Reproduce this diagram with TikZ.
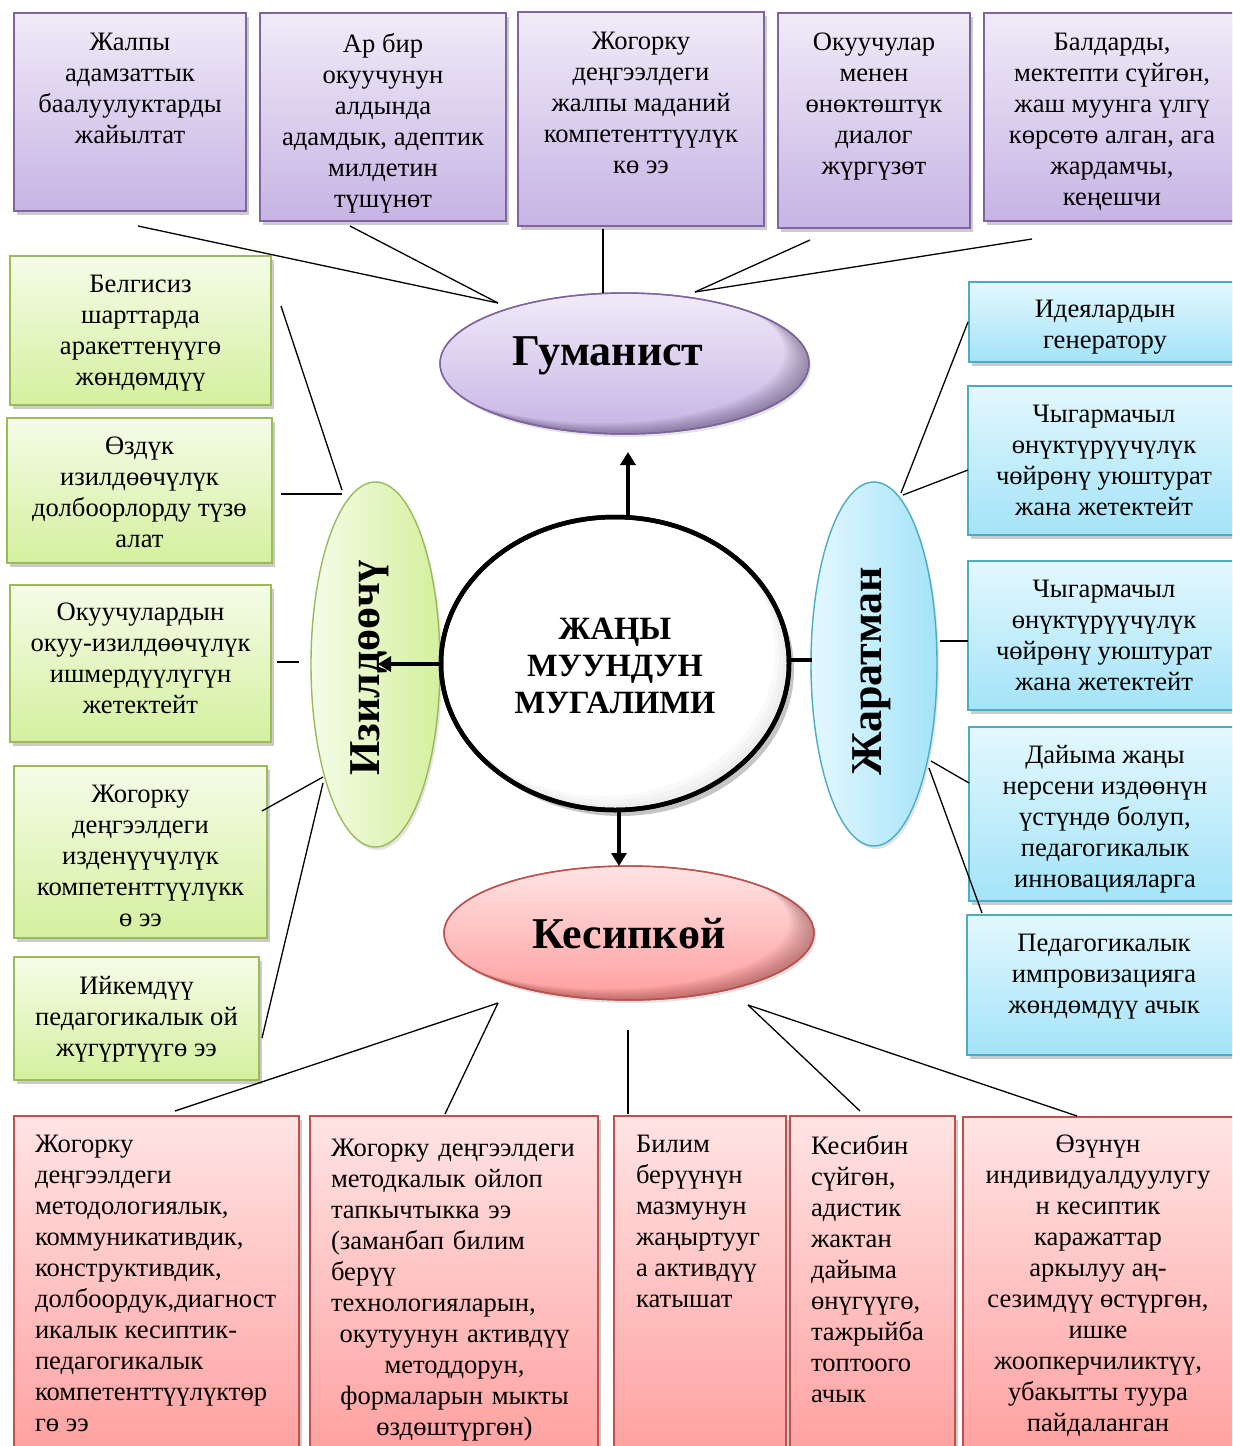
\documentclass[tikz,border=0pt]{standalone}
\usepackage{fontspec}
\setmainfont{Liberation Serif}
\usetikzlibrary{shapes.geometric,shadows,arrows.meta}
\definecolor{purD}{RGB}{128,100,162}
\definecolor{purT}{RGB}{240,235,248}
\definecolor{purB}{RGB}{198,180,228}
\definecolor{grnD}{RGB}{155,187,89}
\definecolor{grnT}{RGB}{245,252,232}
\definecolor{grnB}{RGB}{212,240,158}
\definecolor{bluD}{RGB}{75,172,198}
\definecolor{bluT}{RGB}{228,248,254}
\definecolor{bluB}{RGB}{163,227,248}
\definecolor{redD}{RGB}{192,80,77}
\definecolor{redT}{RGB}{255,228,228}
\definecolor{redB}{RGB}{255,158,158}
\begin{document}
\begin{tikzpicture}[x=1pt,y=-1pt,
  bx/.style={draw, line width=1.4pt, inner sep=0pt, outer sep=0pt, anchor=north west,
    drop shadow={shadow xshift=3pt, shadow yshift=-4pt, fill=black!45, opacity=0.45}},
  pbx/.style={bx, draw=purD, top color=purT, bottom color=purB},
  gbx/.style={bx, draw=grnD, top color=grnT, bottom color=grnB},
  cbx/.style={bx, draw=bluD, top color=bluT, bottom color=bluB},
  rbx/.style={bx, draw=redD, top color=redT, bottom color=redB},
  tfont/.style={font=\fontsize{26.6}{31}\selectfont, inner sep=0pt, outer sep=0pt},
  tx/.style={tfont, execute at begin node=\strut},
  ctx/.style={tx, align=center, anchor=north},
  ltx/.style={tx, align=left, anchor=north west},
  lbl/.style={font=\fontsize{44}{50}\selectfont\bfseries, inner sep=0pt, anchor=base},
  ell/.style={ellipse, line width=1.4pt, inner sep=0pt, outer sep=0pt,
    drop shadow={shadow xshift=2pt, shadow yshift=-3pt, fill=black!30, opacity=0.35}},
  conn/.style={line width=1.3pt, black},
  bigarr/.style={line width=4pt, -{Triangle[length=13pt,width=15pt]}},
]
\useasboundingbox (0,0) rectangle (1232,1446);
\begin{scope}
\clip (0,0) rectangle (1232,1446);
\fill[white] (0,0) rectangle (1232,1446);

% ---------- top (purple) boxes ----------
\node[pbx, minimum width=232pt, minimum height=198pt] (b1) at (14,13) {};
\node[pbx, minimum width=246pt, minimum height=208pt] (b2) at (260,13) {};
\node[pbx, minimum width=246pt, minimum height=214pt] (b3) at (518,12) {};
\node[pbx, minimum width=192pt, minimum height=215pt] (b4) at (778,13) {};
\node[pbx, minimum width=256pt, minimum height=208pt] (b5) at (984,13) {};
\node[ctx] (b1t) at (130,33) {Жалпы\\адамзаттык\\баалуулуктарды\\жайылтат};
\node[ctx] (b2t) at (383,33) {Ар бир\\окуучунун\\алдында\\адамдык, адептик\\милдетин\\түшүнөт};
\node[ctx] (b3t) at (641,32) {Жогорку\\деңгээлдеги\\жалпы маданий\\компетенттүүлүк\\кө ээ};
\node[ctx] (b4t) at (874,33) {Окуучулар\\менен\\өнөктөштүк\\диалог\\жүргүзөт};
\node[ctx] (b5t) at (1112,33) {Балдарды,\\мектепти сүйгөн,\\жаш муунга үлгү\\көрсөтө алган, ага\\жардамчы,\\кеңешчи};

% ---------- left (green) boxes ----------
\node[gbx, minimum width=261pt, minimum height=149pt] (g1) at (10,256) {};
\node[gbx, minimum width=265pt, minimum height=145pt] (g2) at (7,418) {};
\node[gbx, minimum width=261pt, minimum height=157pt] (g3) at (10,585) {};
\node[gbx, minimum width=253pt, minimum height=172pt] (g4) at (14,766) {};
\node[gbx, minimum width=245pt, minimum height=123pt] (g5) at (14,957) {};
\node[ctx] (g1t) at (140.5,275) {Белгисиз\\шарттарда\\аракеттенүүгө\\жөндөмдүү};
\node[ctx] (g2t) at (139.5,437) {Өздүк\\изилдөөчүлүк\\долбоорлорду түзө\\алат};
\node[ctx] (g3t) at (140.5,603) {Окуучулардын\\окуу-изилдөөчүлүк\\ишмердүүлүгүн\\жетектейт};
\node[ctx] (g4t) at (140.5,785) {Жогорку\\деңгээлдеги\\изденүүчүлүк\\компетенттүүлүкк\\ө ээ};
\node[ctx] (g5t) at (136.5,976) {Ийкемдүү\\педагогикалык ой\\жүгүртүүгө ээ};

% ---------- right (blue) boxes ----------
\node[cbx, minimum width=272pt, minimum height=80pt] (c1) at (969,282) {};
\node[cbx, minimum width=273pt, minimum height=149pt] (c2) at (968,386) {};
\node[cbx, minimum width=273pt, minimum height=149pt] (c3) at (968,561) {};
\node[cbx, minimum width=272pt, minimum height=174pt] (c4) at (969,727) {};
\node[cbx, minimum width=274pt, minimum height=140pt] (c5) at (967,915) {};
\node[ctx] (c1t) at (1105,300) {Идеялардын\\генератору};
\node[ctx] (c2t) at (1104,405) {Чыгармачыл\\өнүктүрүүчүлүк\\чөйрөнү уюштурат\\жана жетектейт};
\node[ctx] (c3t) at (1104,580) {Чыгармачыл\\өнүктүрүүчүлүк\\чөйрөнү уюштурат\\жана жетектейт};
\node[ctx] (c4t) at (1105,745) {Дайыма жаңы\\нерсени издөөнүн\\үстүндө болуп,\\педагогикалык\\инновацияларга};
\node[ctx] (c5t) at (1104,934) {Педагогикалык\\импровизацияга\\жөндөмдүү ачык};

% ---------- bottom (red) boxes ----------
\node[rbx, minimum width=285pt, minimum height=350pt] (r1) at (14,1116) {};
\node[rbx, minimum width=288pt, minimum height=350pt] (r2) at (310,1116) {};
\node[rbx, minimum width=172pt, minimum height=350pt] (r3) at (614,1116) {};
\node[rbx, minimum width=165pt, minimum height=350pt] (r4) at (790,1116) {};
\node[rbx, minimum width=278pt, minimum height=350pt] (r5) at (963,1117) {};
\node[ltx] (r1t) at (35,1135) {Жогорку\\деңгээлдеги\\методологиялык,\\коммуникативдик,\\конструктивдик,\\долбоордук,диагност\\икалык кесиптик-\\педагогикалык\\компетенттүүлүктөр\\гө ээ};
\node[tfont, text width=247pt, anchor=north west] (r2t) at (331,1135) {\parindent=0pt\raggedright\strut Жогорку деңгээлдеги\\методкалык ойлоп\\тапкычтыкка ээ\\(заманбап билим\\берүү\\технологияларын,\par\centering окутуунун активдүү\\методдорун,\\формаларын мыкты\\өздөштүргөн)\par};
\node[ltx] (r3t) at (636,1135) {Билим\\берүүнүн\\мазмунун\\жаңыртууг\\а активдүү\\катышат};
\node[ltx] (r4t) at (811,1135) {Кесибин\\сүйгөн,\\адистик\\жактан\\дайыма\\өнүгүүгө,\\тажрыйба\\топтоого\\ачык};
\node[ctx] (r5t) at (1098,1135) {Өзүнүн\\индивидуалдуулугу\\н кесиптик\\каражаттар\\аркылуу аң-\\сезимдүү өстүргөн,\\ишке\\жоопкерчиликтүү,\\убакытты туура\\пайдаланган};

% ---------- ellipses ----------
\node[ell, draw=purD, top color=purT, bottom color=purB, minimum width=369pt, minimum height=141pt] (hum) at (624.5,363.5) {};
\node[ell, draw=redD, top color=redT, bottom color=redB, minimum width=370pt, minimum height=134pt] (pro) at (629,933) {};
\node[ell, draw=grnD, left color=grnT, right color=grnB, minimum width=129pt, minimum height=365pt] (res) at (375.5,664.5) {};
\node[ell, draw=bluD, left color=bluT, right color=bluB, minimum width=126pt, minimum height=364pt] (cre) at (874,664) {};

% 3D inner shade (bottom-right) of the two horizontal ellipses
\begin{scope}
\clip (hum.center) ellipse [x radius=184.5pt, y radius=70.5pt];
\foreach \s in {3,6,...,24} {
  \fill[purD!45!black, opacity=0.06, even odd rule]
    (hum.center) ellipse [x radius=184.5pt, y radius=70.5pt]
    ([shift={(-\s,-0.45*\s)}]hum.center) ellipse [x radius=184.5pt, y radius=70.5pt];
}
\end{scope}
\draw[purD, line width=1.4pt] (hum.center) ellipse [x radius=184.5pt, y radius=70.5pt];
\begin{scope}
\clip (pro.center) ellipse [x radius=185pt, y radius=67pt];
\foreach \s in {3,6,...,24} {
  \fill[redD!55!black, opacity=0.06, even odd rule]
    (pro.center) ellipse [x radius=185pt, y radius=67pt]
    ([shift={(-\s,-0.45*\s)}]pro.center) ellipse [x radius=185pt, y radius=67pt];
}
\end{scope}
\draw[redD, line width=1.4pt] (pro.center) ellipse [x radius=185pt, y radius=67pt];

\node[ellipse, draw=black, line width=4.5pt, fill=white, minimum width=348pt, minimum height=293pt, inner sep=0pt,
  drop shadow={shadow xshift=5pt, shadow yshift=-6pt, fill=black!50, opacity=0.45}] (ctr) at (615,663.5) {};
\begin{scope}
\clip (ctr.center) ellipse [x radius=172pt, y radius=144.5pt];
\foreach \s in {4,8,12} {
  \fill[black, opacity=0.025, even odd rule]
    (ctr.center) ellipse [x radius=172pt, y radius=144.5pt]
    ([shift={(-\s,-\s)}]ctr.center) ellipse [x radius=172pt, y radius=144.5pt];
}
\end{scope}
\draw[black, line width=4.5pt] (ctr.center) ellipse [x radius=174pt, y radius=146.5pt];

\node[lbl] (humL) at (608,365) {Гуманист};
\node[lbl] (proL) at (629,948) {Кесипкөй};
\node[lbl, rotate=90] (resL) at (379,668) {Изилдөөчү};
\node[lbl, rotate=90] (creL) at (881,671) {Жаратман};
\node[font=\fontsize{32.5}{37}\selectfont\bfseries, inner sep=0pt, align=center, anchor=north,
  execute at begin node=\strut] (ctrL) at (615,618) {ЖАҢЫ\\МУУНДУН\\МУГАЛИМИ};

% ---------- connector end points ----------
\coordinate (humW) at (498,303);
\coordinate (humE) at (695,292);
\coordinate (humN) at (603,293);
\coordinate (b1e) at (138,226);
\coordinate (b2e) at (350,226);
\coordinate (b3e) at (603,229);
\coordinate (b4e) at (810,240);
\coordinate (b5e) at (1032,239);

\coordinate (resA) at (342,490);
\coordinate (resB) at (342,494);
\coordinate (resC) at (299,662);
\coordinate (resD) at (323,777);
\coordinate (resE) at (323,783);
\coordinate (g1e) at (281,306);
\coordinate (g2e) at (281,494);
\coordinate (g3e) at (277,662);
\coordinate (g4e) at (262,811);
\coordinate (g5e) at (262,1038);

\coordinate (creA) at (901,493);
\coordinate (creB) at (903,495);
\coordinate (creC) at (940,641);
\coordinate (creD) at (931,761);
\coordinate (creE) at (929,768);
\coordinate (c1e) at (968,322);
\coordinate (c2e) at (968,470);
\coordinate (c3e) at (968,641);
\coordinate (c4e) at (969,783);
\coordinate (c5e) at (982,913);

\coordinate (proW) at (498,1003);
\coordinate (proS) at (628,1030);
\coordinate (proE) at (748,1005);
\coordinate (r1e) at (175,1111);
\coordinate (r2e) at (445,1114);
\coordinate (r3e) at (628,1114);
\coordinate (r4e) at (860,1111);
\coordinate (r5e) at (1077,1116);

% ---------- connectors ----------
\draw[conn] (b1e) -- (humW);
\draw[conn] (b2e) -- (humW);
\draw[conn] (b3e) -- (humN);
\draw[conn] (b4e) -- (humE);
\draw[conn] (b5e) -- (humE);

\draw[conn] (g1e) -- (resA);
\draw[conn] (g2e) -- (resB);
\draw[conn] (g3e) -- (resC);
\draw[conn] (g4e) -- (resD);
\draw[conn] (g5e) -- (resE);

\draw[conn] (c1e) -- (creA);
\draw[conn] (c2e) -- (creB);
\draw[conn] (creC) -- (c3e);
\draw[conn] (creD) -- (c4e);
\draw[conn] (creE) -- (c5e);

\draw[conn] (proW) -- (r1e);
\draw[conn] (proW) -- (r2e);
\draw[conn] (proS) -- (r3e);
\draw[conn] (proE) -- (r4e);
\draw[conn] (proE) -- (r5e);

% ---------- thick arrows from the centre ----------
\coordinate (upA) at (628,519);
\coordinate (upB) at (628,452);
\coordinate (lfA) at (441,664);
\coordinate (lfB) at (378,664);
\coordinate (dnA) at (619,810);
\coordinate (dnB) at (619,866);
\coordinate (rtA) at (789,660);
\coordinate (rtB) at (812,660);
\draw[bigarr] (upA) -- (upB);
\draw[bigarr] (lfA) -- (lfB);
\draw[bigarr] (dnA) -- (dnB);
\draw[line width=4pt] (rtA) -- (rtB);
\end{scope}
\end{tikzpicture}
\end{document}
